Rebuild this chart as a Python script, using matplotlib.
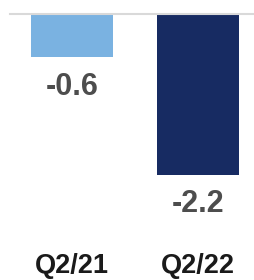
import matplotlib
matplotlib.use("Agg")
import matplotlib.pyplot as plt

categories = ["Q2/21", "Q2/22"]
values = [-0.6, -2.2]
bar_colors = ["#7ab2e1", "#172b62"]
value_labels = ["-0.6", "-2.2"]

plt.rcParams['font.family'] = ['Liberation Sans', 'DejaVu Sans']

fig = plt.figure(figsize=(2.55, 2.80), dpi=100)
ax = fig.add_axes([0, 35/280, 1, 245/280])
scale = 73.3
ax.set_ylim(-(245 - 13.5) / scale, 13.5 / scale)
xs = list(range(len(categories)))
ax.set_xlim(-72/126, (255 - 72)/126)

ax.bar(xs, values, width=0.65, color=bar_colors, zorder=2)
ax.axhline(0, xmin=10/255, xmax=1, color="#d9d9d9", lw=1.5, zorder=3)

for x, v, lab in zip(xs, values, value_labels):
    ax.annotate(lab, (x, v), xytext=(0, -10.5), textcoords="offset points",
                ha="center", va="top", fontsize=22, fontweight="bold",
                color="#4d4d4d")

ax.set_xticks(xs)
ax.set_xticklabels(categories, fontsize=19.5, fontweight="bold", color="#1a1a1a")
ax.tick_params(axis="x", length=0, pad=6)
ax.set_yticks([])
for s in ax.spines.values():
    s.set_visible(False)

fig.savefig("out.png", dpi=100)
